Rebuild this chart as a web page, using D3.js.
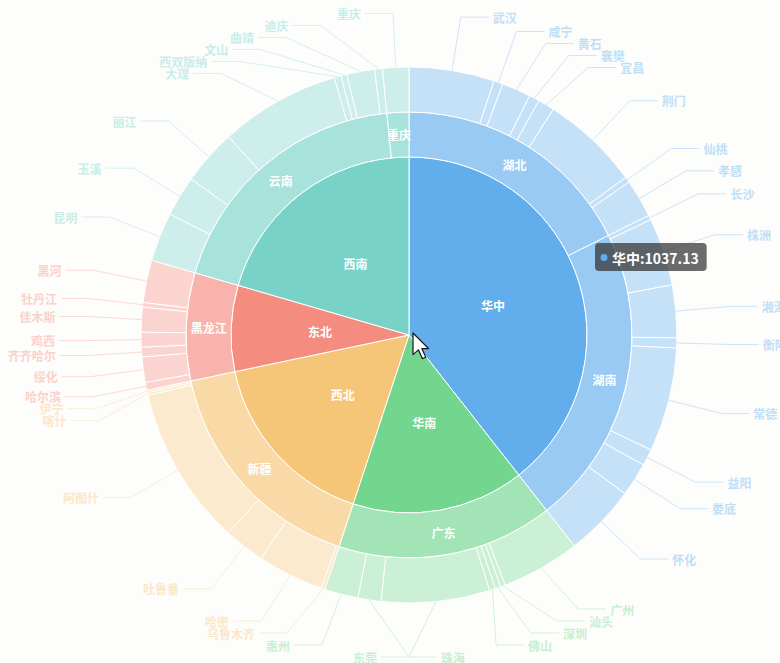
<!DOCTYPE html>
<html>
<head>
<meta charset="utf-8">
<script src="https://cdn.jsdelivr.net/npm/d3@7"></script>
<style>
html, body { margin: 0; padding: 0; background: #fdfdfb; }
svg { display: block; font-family: "Noto Sans CJK SC", "Noto Sans", sans-serif; }
</style>
</head>
<body>
<div id="chart"></div>
<script>
// regions (inner ring)
const regionNames = ["华中", "华南", "西北", "东北", "西南"];
const regionColors = ["#62aeec", "#72d68e", "#f5c678", "#f48c80", "#78d2c8"];

// provinces (middle ring)
const provinceNames = ["湖北", "湖南", "广东", "新疆", "黑龙江", "云南", "重庆"];
const provinceRegion = ["华中", "华中", "华南", "西北", "东北", "西南", "西南"];

// cities (outer ring)
const cityNames = [
  "武汉", "咸宁", "黄石", "襄樊", "宜昌", "荆门", "仙桃", "孝感",
  "长沙", "株洲", "湘潭", "衡阳", "常德", "益阳", "娄底", "怀化",
  "广州", "汕头", "深圳", "佛山", "珠海", "东莞", "惠州",
  "乌鲁木齐", "哈密", "吐鲁番", "阿图什", "喀什", "伊宁",
  "哈尔滨", "绥化", "齐齐哈尔", "鸡西", "佳木斯", "牡丹江", "黑河",
  "昆明", "玉溪", "丽江", "大理", "西双版纳", "文山", "曲靖", "迪庆",
  "重庆"
];
const cityProvince = [
  "湖北", "湖北", "湖北", "湖北", "湖北", "湖北", "湖北", "湖北",
  "湖南", "湖南", "湖南", "湖南", "湖南", "湖南", "湖南", "湖南",
  "广东", "广东", "广东", "广东", "广东", "广东", "广东",
  "新疆", "新疆", "新疆", "新疆", "新疆", "新疆",
  "黑龙江", "黑龙江", "黑龙江", "黑龙江", "黑龙江", "黑龙江", "黑龙江",
  "云南", "云南", "云南", "云南", "云南", "云南", "云南", "云南",
  "重庆"
];
const cityValues = [
  135.21, 14.62, 46.05, 16.08, 26.31, 156.43, 8.77, 60.66,
  7.31, 107.44, 83.32, 16.08, 165.18, 26.31, 53.36, 114.00,
  124.98, 7.31, 8.77, 9.50, 171.76, 36.55, 53.36,
  5.85, 105.25, 65.05, 252.89, 4.39, 3.65,
  12.43, 40.20, 15.35, 23.39, 39.47, 7.31, 67.24,
  77.48, 64.32, 88.44, 190.77, 10.96, 9.50, 43.85, 12.43,
  41.66
];

const tooltipRegion = "华中";

const width = 780, height = 663;
const cx = 409, cy = 335;
const r1 = 178, r2 = 223, r3 = 268;

const provinceValues = provinceNames.map(p =>
  d3.sum(cityValues.filter((v, i) => cityProvince[i] === p)));
const regionValues = regionNames.map(r =>
  d3.sum(provinceValues.filter((v, i) => provinceRegion[i] === r)));

const regionOf = name => provinceRegion[provinceNames.indexOf(name)];
const baseColor = region => regionColors[regionNames.indexOf(region)];
const tint = (c, t) => d3.interpolateRgb(c, "#ffffff")(t);

const regionData = regionNames.map((n, i) => ({ name: n, value: regionValues[i], region: n }));
const provinceData = provinceNames.map((n, i) => ({ name: n, value: provinceValues[i], region: provinceRegion[i] }));
const cityData = cityNames.map((n, i) => ({ name: n, value: cityValues[i], region: regionOf(cityProvince[i]) }));

const pie = d3.pie().sort(null).value(d => d.value);

const svg = d3.select("#chart").append("svg")
  .attr("width", width)
  .attr("height", height);

const g = svg.append("g").attr("transform", `translate(${cx},${cy})`);

function ring(data, inner, outer, t, labelInside) {
  const arcs = pie(data);
  const arc = d3.arc().innerRadius(inner).outerRadius(outer);
  g.append("g")
    .selectAll("path")
    .data(arcs)
    .enter().append("path")
    .attr("d", arc)
    .attr("fill", d => tint(baseColor(d.data.region), t))
    .attr("stroke", "#ffffff")
    .attr("stroke-width", 1);
  if (labelInside) {
    const lr = (inner + outer) / 2;
    g.append("g")
      .selectAll("text")
      .data(arcs)
      .enter().append("text")
      .attr("x", d => Math.sin((d.startAngle + d.endAngle) / 2) * lr)
      .attr("y", d => -Math.cos((d.startAngle + d.endAngle) / 2) * lr)
      .attr("text-anchor", "middle")
      .attr("dominant-baseline", "central")
      .attr("fill", "#ffffff")
      .style("font-size", "12px")
      .style("font-weight", "bold")
      .text(d => d.data.name);
  }
  return arcs;
}

ring(regionData, 0, r1, 0, true);
ring(provinceData, r1, r2, 0.35, true);
const cityArcs = ring(cityData, r2, r3, 0.63, false);

// outer labels with leader lines
const lineR = r3 + 54, len2 = 28, gap = 4, minGap = 12;
const labels = cityArcs.map(a => {
  const mid = (a.startAngle + a.endAngle) / 2;
  return {
    a: a,
    sx: Math.sin(mid) * r3,
    sy: -Math.cos(mid) * r3,
    y: -Math.cos(mid) * lineR,
    side: Math.sin(mid) >= 0 ? 1 : -1
  };
});

function spread(list) {
  const top = 13 - cy, bottom = 657 - cy;
  list.sort((p, q) => p.y - q.y);
  for (let i = 0; i < list.length; i++) {
    const lo = i === 0 ? top : list[i - 1].y + minGap;
    if (list[i].y < lo) list[i].y = lo;
  }
  for (let i = list.length - 1; i >= 0; i--) {
    const hi = i === list.length - 1 ? bottom : list[i + 1].y - minGap;
    if (list[i].y > hi) list[i].y = hi;
  }
  list.forEach(l => {
    l.x = l.side * Math.sqrt(Math.max(0, lineR * lineR - l.y * l.y));
  });
}
spread(labels.filter(l => l.side > 0));
spread(labels.filter(l => l.side < 0));

const lab = g.append("g");
lab.selectAll("polyline")
  .data(labels)
  .enter().append("polyline")
  .attr("points", d => `${d.sx},${d.sy} ${d.x},${d.y} ${d.x + d.side * len2},${d.y}`)
  .attr("fill", "none")
  .attr("stroke", d => tint(baseColor(d.a.data.region), 0.68))
  .attr("stroke-width", 1);

lab.selectAll("text")
  .data(labels)
  .enter().append("text")
  .attr("x", d => d.x + d.side * (len2 + gap))
  .attr("y", d => d.y)
  .attr("text-anchor", d => d.side > 0 ? "start" : "end")
  .attr("dominant-baseline", "central")
  .attr("fill", d => tint(baseColor(d.a.data.region), 0.6))
  .style("font-size", "12px")
  .style("font-weight", "bold")
  .text(d => d.a.data.name);

// mouse pointer
svg.append("path")
  .attr("transform", "translate(413,333) scale(1.35)")
  .attr("d", "M0,0 L0,16 L4,12.5 L7,19 L9.5,18 L6.5,11.5 L11.5,11.5 Z")
  .attr("fill", "#ffffff")
  .attr("stroke", "#1a1a1a")
  .attr("stroke-width", 0.9)
  .attr("stroke-linejoin", "round");

// tooltip
const ri = regionNames.indexOf(tooltipRegion);
const tip = svg.append("g").attr("transform", "translate(595,243)");
const tipBox = tip.append("rect")
  .attr("height", 28)
  .attr("rx", 4)
  .attr("fill", "rgba(50,50,50,0.72)");
tip.append("circle")
  .attr("cx", 9)
  .attr("cy", 14.5)
  .attr("r", 3.5)
  .attr("fill", regionColors[ri]);
const tipText = tip.append("text")
  .attr("x", 17)
  .attr("y", 14.5)
  .attr("dominant-baseline", "central")
  .attr("fill", "#ffffff")
  .style("font-size", "14px")
  .style("font-weight", "bold")
  .text(`${tooltipRegion}:${regionValues[ri].toFixed(2)}`);
tipBox.attr("width", 17 + tipText.node().getComputedTextLength() + 8);
</script>
</body>
</html>
